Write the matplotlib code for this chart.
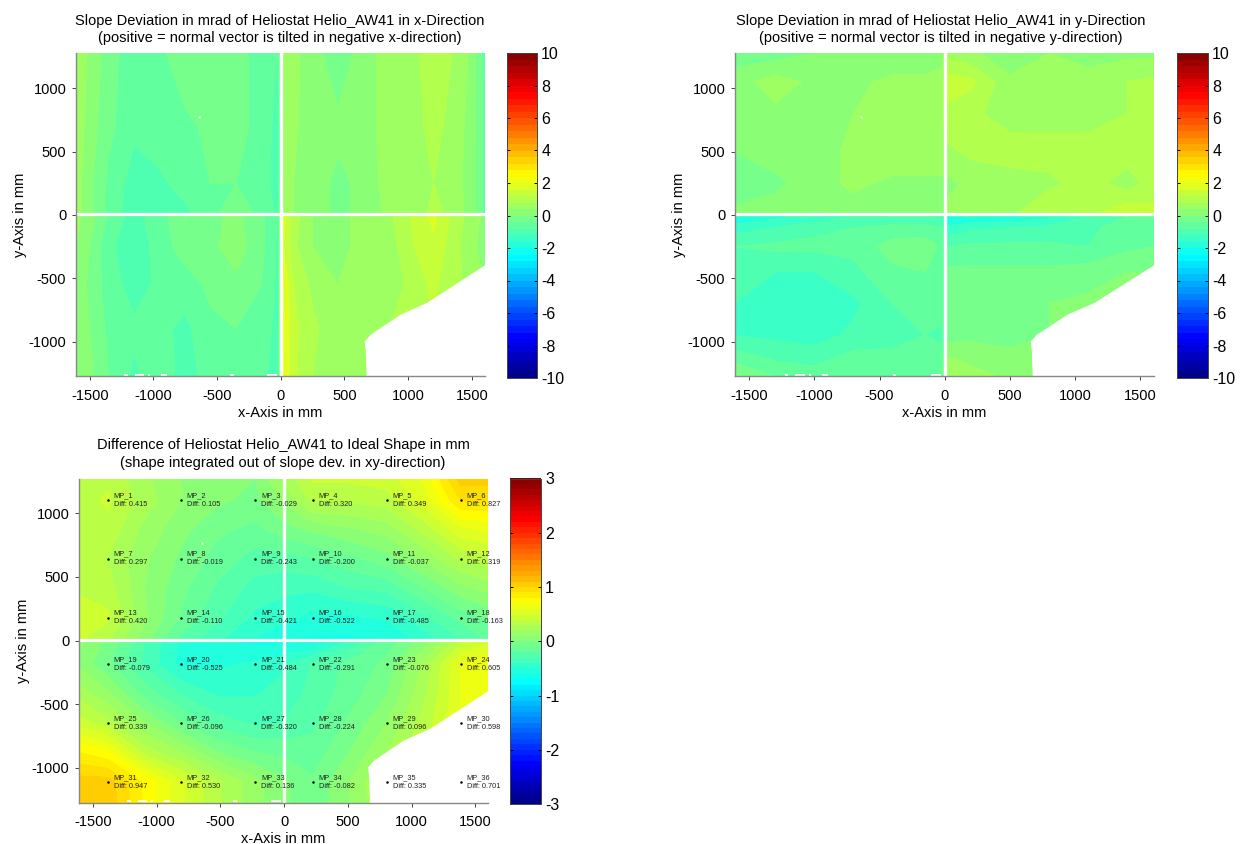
import numpy as np
import matplotlib
matplotlib.use('Agg')
import matplotlib.pyplot as plt
from matplotlib.colors import LinearSegmentedColormap

plt.rcParams['font.family'] = ['Liberation Sans', 'DejaVu Sans']
plt.rcParams['axes.unicode_minus'] = False

W, H = 1241, 844

# slope deviation in x-direction (mrad)
slope_x_cols = [-1608, -1500, -1350, -1150, -950, -750, -550, -350, -150, -20,
                20, 100, 250, 450, 650, 850, 1050, 1200, 1350, 1500, 1600]
slope_x_rows = [1275, 700, 250, 15, -15, -250, -550, -900, -1275]
slope_x = [
    [0.8, 0.3, -0.2, -0.7, -0.5, -0.1, -0.1, -0.3, -0.5, -0.8, 0.7, 0.5, 0.2, -0.3, 0.2, 0.6, 0.7, 1.1, 0.8, 0.3, -0.6],
    [0.7, 0.2, -0.3, -0.7, -0.5, -0.5, -0.3, -0.3, -0.5, -1.0, 0.7, 0.5, 0.1, 0.1, 0.2, 0.6, 0.7, 0.9, 0.7, 0.2, -0.5],
    [0.6, 0.1, -0.5, -1.0, -0.9, -0.6, -0.4, -0.4, -0.6, -1.0, 0.7, 0.4, 0.2, -0.1, 0.1, 0.6, 0.6, 0.8, 0.6, 0.2, -0.5],
    [0.6, 0.1, -0.5, -1.1, -0.8, -0.9, -0.5, -0.2, -0.5, -0.9, 0.7, 0.4, 0.2, -0.1, 0.1, 0.5, 0.6, 0.9, 0.7, 0.2, -0.5],
    [0.5, 0.2, -0.5, -1.0, -0.5, -0.2, -0.1, 0.1, -0.3, -0.8, 1.8, 1.0, 0.4, 0.2, 0.6, 0.7, 1.3, 1.7, 1.1, 0.6, 0.3],
    [0.4, 0.0, -0.7, -1.1, -0.6, -0.2, -0.1, 0.2, -0.3, -0.9, 1.6, 0.9, 0.4, 0.2, 0.6, 0.6, 1.2, 1.5, 1.0, 0.5, 0.2],
    [0.3, -0.1, -0.6, -1.0, -0.7, -0.6, -0.3, -0.1, -0.4, -0.9, 2.0, 1.2, 0.7, 0.4, 0.7, 0.5, 1.0, 1.3, 0.9, 0.7, 0.4],
    [0.3, 0.0, -0.5, -0.7, -0.7, -0.9, -0.5, -0.4, -0.5, -1.0, 2.1, 1.3, 0.9, 0.5, 0.6, 0.8, 1.0, 1.2, 0.9, 0.7, 0.4],
    [0.4, 0.1, -0.4, -0.9, -0.5, -1.0, -0.6, -0.4, -0.7, -1.0, 2.0, 1.3, 0.8, 0.5, 0.5, 0.8, 1.0, 1.2, 0.9, 0.7, 0.4],
]

# slope deviation in y-direction (mrad)
slope_y_cols = [-1608, -1300, -1000, -700, -400, -150, -20, 20, 200, 500, 800, 1100, 1400, 1600]
slope_y_rows = [1275, 1050, 800, 500, 250, 15, -15, -100, -250, -450, -700, -950, -1150, -1275]
slope_y = [
    [-0.2, -0.2, 0.0, 0.1, 0.1, 0.1, 0.3, 0.7, 0.5, 0.1, 0.4, 0.3, 0.3, 0.3],
    [0.2, 0.6, 0.3, 0.3, 0.5, 0.5, 0.5, 1.4, 1.3, 0.5, 0.5, 0.5, 0.8, 0.9],
    [0.1, 0.3, 0.3, 0.4, 0.7, 0.7, 0.7, 1.1, 0.9, 0.6, 0.6, 0.6, 0.8, 0.9],
    [0.0, 0.2, 0.2, 0.5, 0.7, 0.7, 0.7, 0.7, 0.9, 1.0, 1.0, 1.0, 1.0, 1.1],
    [-0.3, -0.1, 0.2, 0.5, 0.3, 0.3, 0.3, 0.3, 0.5, 0.6, 0.7, 1.0, 0.6, 1.0],
    [0.1, 0.2, 0.2, 0.2, 0.2, 0.3, 0.3, 0.5, 0.6, 0.7, 1.2, 1.1, 1.5, 1.3],
    [-2.0, -1.7, -1.5, -1.2, -1.1, -1.1, -1.3, -2.2, -2.0, -1.9, -1.7, -1.2, -0.8, -0.7],
    [-1.4, -1.2, -0.9, -0.8, -0.7, -0.7, -0.8, -1.5, -1.3, -1.2, -1.1, -0.9, -0.6, -0.6],
    [-0.8, -0.7, -0.7, -0.7, -0.2, -0.1, -0.5, -0.8, -0.7, -0.7, -0.7, -0.8, -0.5, -0.4],
    [-1.0, -1.2, -1.2, -0.9, -0.5, -0.4, -0.5, -0.3, -0.3, -0.3, -0.3, -0.2, 0.0, 0.0],
    [-1.2, -1.4, -1.4, -1.3, -0.8, -0.6, -0.6, -0.2, -0.1, 0.0, 0.0, 0.1, 0.1, 0.1],
    [-1.2, -1.3, -1.4, -1.1, -0.9, -0.8, -0.9, -0.2, -0.1, -0.1, 0.0, 0.1, 0.1, 0.1],
    [-0.5, -0.8, -0.9, -0.6, -0.7, -0.6, -0.6, 0.5, 0.3, 0.1, 0.1, 0.1, 0.1, 0.1],
    [0.1, -0.4, -0.6, -0.4, -0.5, -0.5, -0.4, 0.8, 0.6, 0.3, 0.2, 0.2, 0.2, 0.2],
]

shape_cols = [-1608, -1383, -1095, -810, -520, -228, 0, 225, 515, 805, 1095, 1386, 1600]
shape_rows = [1275, 1102, 870, 645, 415, 181, 15, -15, -186, -415, -648, -880, -1112, -1275]
shape_diff = [
    [0.33, 0.38, 0.22, 0.10, 0.06, 0.00, 0.22, 0.42, 0.42, 0.45, 0.62, 1.05, 1.05],
    [0.36, 0.415, 0.25, 0.105, 0.02, -0.029, 0.12, 0.320, 0.32, 0.349, 0.55, 0.90, 0.90],
    [0.36, 0.37, 0.17, 0.03, -0.08, -0.13, -0.05, 0.02, 0.08, 0.14, 0.33, 0.56, 0.62],
    [0.36, 0.297, 0.12, -0.019, -0.14, -0.243, -0.24, -0.200, -0.13, -0.037, 0.12, 0.319, 0.36],
    [0.39, 0.35, 0.10, -0.07, -0.22, -0.34, -0.37, -0.38, -0.30, -0.27, -0.10, 0.07, 0.14],
    [0.43, 0.420, 0.12, -0.110, -0.28, -0.421, -0.48, -0.522, -0.52, -0.485, -0.33, -0.163, -0.08],
    [0.42, 0.33, 0.05, -0.22, -0.38, -0.50, -0.58, -0.62, -0.62, -0.60, -0.46, -0.30, -0.18],
    [0.08, -0.02, -0.30, -0.52, -0.60, -0.62, -0.62, -0.58, -0.38, -0.15, 0.05, 0.38, 0.48],
    [0.07, -0.079, -0.32, -0.525, -0.52, -0.484, -0.42, -0.291, -0.17, -0.076, 0.22, 0.605, 0.68],
    [0.25, 0.12, -0.14, -0.31, -0.42, -0.41, -0.36, -0.27, -0.15, -0.01, 0.27, 0.60, 0.70],
    [0.45, 0.339, 0.10, -0.096, -0.25, -0.320, -0.30, -0.224, -0.08, 0.096, 0.34, 0.598, 0.70],
    [0.80, 0.72, 0.36, 0.20, 0.00, -0.10, -0.13, -0.16, 0.00, 0.20, 0.40, 0.65, 0.72],
    [1.05, 1.05, 0.78, 0.530, 0.32, 0.136, 0.02, -0.082, 0.10, 0.335, 0.50, 0.701, 0.75],
    [1.02, 1.08, 0.78, 0.52, 0.32, 0.13, 0.02, -0.08, 0.10, 0.30, 0.50, 0.70, 0.75],
]

mp_x = [-1383, -810, -228, 225, 805, 1386]
mp_y = [1102, 645, 181, -186, -648, -1112]
mp_values = [
    '0.415', '0.105', '-0.029', '0.320', '0.349', '0.827',
    '0.297', '-0.019', '-0.243', '-0.200', '-0.037', '0.319',
    '0.420', '-0.110', '-0.421', '-0.522', '-0.485', '-0.163',
    '-0.079', '-0.525', '-0.484', '-0.291', '-0.076', '0.605',
    '0.339', '-0.096', '-0.320', '-0.224', '0.096', '0.598',
    '0.947', '0.530', '0.136', '-0.082', '0.335', '0.701',
]

# outline of the missing corner of the heliostat, and the small gaps on the lower edge
cutout_x = [1620, 1620, 1600, 1150, 941, 706, 659, 667, 675]
cutout_y = [-1290, -400, -400, -693, -787, -945, -1000, -1063, -1290]
edge_gaps = [(-1228, -1202), (-1145, -1072), (-1040, -1025), (-941, -894), (-397, -371), (-105, -26)]

x_ticks = [-1500, -1000, -500, 0, 500, 1000, 1500]
y_ticks = [-1000, -500, 0, 500, 1000]

# MATLAB style jet, yellow and cyan sit a bit further in than matplotlib's
jet = LinearSegmentedColormap.from_list('matlab_jet', [
    (0.0, (0, 0, 0.5)), (0.125, (0, 0, 1)), (0.375, (0, 1, 1)),
    (0.625, (1, 1, 0)), (0.875, (1, 0, 0)), (1.0, (0.5, 0, 0))], N=256)


def px_axes(fig, left, right, top, bottom):
    return fig.add_axes([left / W, 1 - bottom / H, (right - left) / W, (bottom - top) / H])


def draw_panel(fig, box, cbar_box, cols, rows, values, levels, cbar_ticks, title, title_pos):
    ax = px_axes(fig, *box)
    cf = ax.contourf(cols, rows, np.array(values), levels=levels, cmap=jet, zorder=1)
    ax.fill(cutout_x, cutout_y, color='white', lw=0, zorder=1.5)
    for x0, x1 in edge_gaps:
        ax.plot([x0, x1], [-1264, -1264], color='white', lw=1.3, solid_capstyle='butt', zorder=1.6)
    ax.plot([-645], [770], 's', color='white', ms=1.4, mew=0, zorder=1.6)
    ax.axvline(3, color='white', lw=2.4, zorder=2)
    ax.axhline(4, color='white', lw=2.3, zorder=2)

    ax.set_xlim(-1608, 1600)
    ax.set_ylim(-1275, 1275)
    ax.set_xticks(x_ticks)
    ax.set_yticks(y_ticks)
    ax.tick_params(labelsize=10.5, length=3, width=0.7, color='#444444')
    ax.tick_params(axis='x', pad=6)
    ax.tick_params(axis='y', pad=4)
    for side in ('top', 'right'):
        ax.spines[side].set_visible(False)
    for side in ('left', 'bottom'):
        ax.spines[side].set_color('#888888')
        ax.spines[side].set_linewidth(1.0)
    ax.set_xlabel('x-Axis in mm', fontsize=10.5, labelpad=2)
    ax.set_ylabel('y-Axis in mm', fontsize=10.5, labelpad=1)

    fig.text(title_pos[0] / W, 1 - title_pos[1] / H, title, ha='center', va='center',
             fontsize=10.5, linespacing=1.3)

    cax = px_axes(fig, *cbar_box)
    cb = fig.colorbar(cf, cax=cax)
    cb.set_ticks(cbar_ticks)
    cax.tick_params(labelsize=11.5, direction='in', left=True, right=True, length=2.5,
                    width=0.7, pad=3)
    cb.outline.set_linewidth(0.7)
    cb.outline.set_edgecolor('#444444')
    return ax


fig = plt.figure(figsize=(W / 100, H / 100), dpi=100)

draw_panel(fig, (76, 484.5, 53.5, 376.5), (507, 537, 53, 378),
           slope_x_cols, slope_x_rows, slope_x, np.linspace(-10, 10, 51), range(-10, 11, 2),
           'Slope Deviation in mrad of Heliostat Helio_AW41 in x-Direction\n'
           '(positive = normal vector is tilted in negative x-direction)', (280, 29.5))

draw_panel(fig, (735, 1153.5, 53.5, 376.5), (1177, 1208, 53, 378),
           slope_y_cols, slope_y_rows, slope_y, np.linspace(-10, 10, 51), range(-10, 11, 2),
           'Slope Deviation in mrad of Heliostat Helio_AW41 in y-Direction\n'
           '(positive = normal vector is tilted in negative y-direction)', (941, 29.5))

ax3 = draw_panel(fig, (79, 488, 478.5, 802.5), (510, 541, 478.5, 804),
                 shape_cols, shape_rows, shape_diff, np.linspace(-3, 3, 61), range(-3, 4),
                 'Difference of Heliostat Helio_AW41 to Ideal Shape in mm\n'
                 '(shape integrated out of slope dev. in xy-direction)', (283, 454))

# measuring points with name and difference
k = 0
for y in mp_y:
    for x in mp_x:
        ax3.plot([x], [y], 'o', color='black', ms=1.8, mew=0, zorder=3)
        ax3.text(x + 47, y + 35, f'MP_{k + 1}', fontsize=5.3, color='#222222', ha='left', va='center', zorder=3)
        ax3.text(x + 47, y - 35, f'Diff: {mp_values[k]}', fontsize=5.3, color='#222222', ha='left', va='center',
                 zorder=3, clip_on=False)
        k += 1

fig.savefig('out.png', dpi=100)
